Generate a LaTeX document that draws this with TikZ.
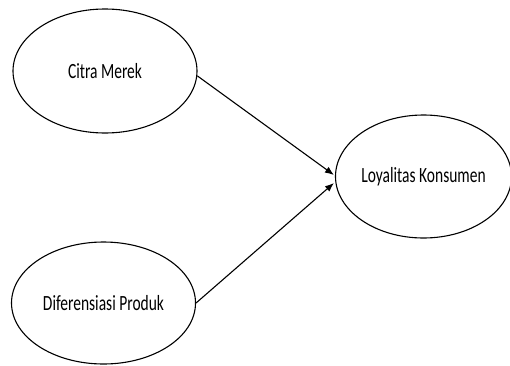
\documentclass[tikz,border=0pt]{standalone}
\usepackage{fontspec}
\setmainfont{Carlito}
\usepackage{graphicx}
\usepackage{tikz}
\usetikzlibrary{shapes.geometric,arrows.meta}

\tikzset{latent/.style={draw,ellipse,line width=1.1pt,inner sep=0pt,font=\fontsize{15.5}{18}\selectfont},
  path/.style={line width=1.1pt,-{Latex[length=9pt,width=7pt]}}}
\newcommand{\tall}[1]{\scalebox{1}[1.4]{#1}}

\begin{document}
\begin{tikzpicture}[x=1pt,y=1pt]
\useasboundingbox (0,0) rectangle (510,365);
\node[latent,minimum width=184pt,minimum height=124pt] (citra) at (105,294) {\tall{Citra Merek}};
\node[latent,minimum width=184pt,minimum height=122pt] (dif) at (103.5,62) {\tall{Diferensiasi Produk}};
\node[latent,minimum width=173pt,minimum height=123pt] (loyal) at (423.5,188.5) {\tall{Loyalitas Konsumen}};
\draw[path] (citra.-3) -- ([yshift=1.5pt,xshift=-1pt]loyal.west);
\draw[path] (dif.east) -- ([yshift=-6.5pt,xshift=-1pt]loyal.west);
\end{tikzpicture}
\end{document}
